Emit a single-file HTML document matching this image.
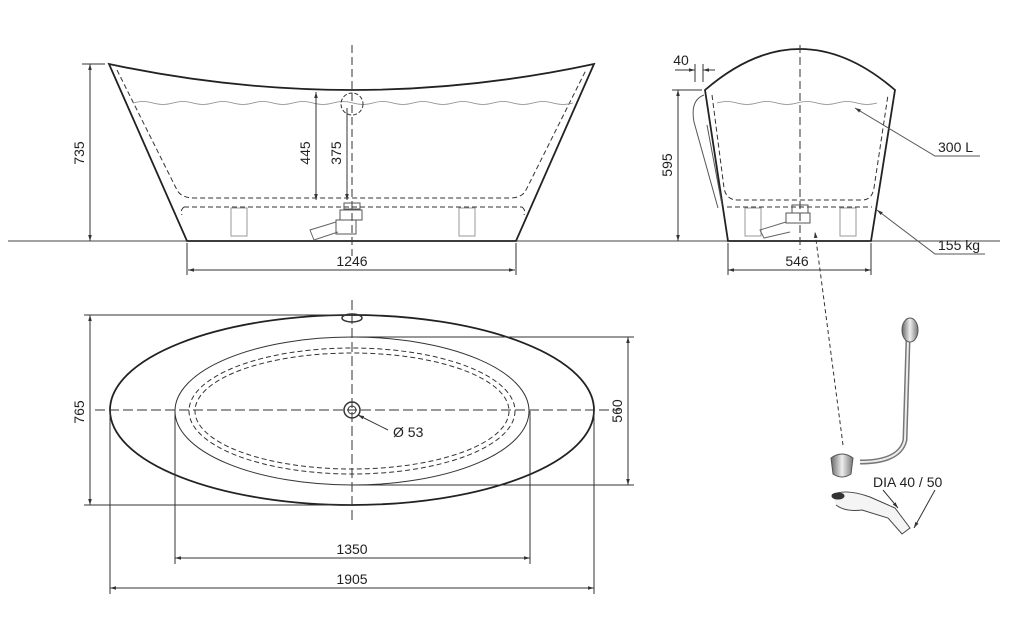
<!DOCTYPE html>
<html><head><meta charset="utf-8"><style>
html,body{margin:0;padding:0;background:#fff}
svg{display:block}
text{font-family:"Liberation Sans",sans-serif;font-size:14px;fill:#222}
</style></head><body>
<svg width="1030" height="639" viewBox="0 0 1030 639" xmlns="http://www.w3.org/2000/svg">
<defs>
<marker id="a" viewBox="0 0 10 10" refX="10" refY="5" markerWidth="6" markerHeight="6" orient="auto-start-reverse"><path d="M0,2 L10,5 L0,8z" fill="#333"/></marker>
<linearGradient id="chr" x1="0" x2="1"><stop offset="0" stop-color="#666"/><stop offset=".5" stop-color="#eee"/><stop offset="1" stop-color="#777"/></linearGradient>
</defs>
<g fill="none" stroke="#333" stroke-width="1">
<line x1="8" y1="241" x2="1000" y2="241" stroke="#444"/>
<path d="M109,64 Q352,116 594,64 L516,241 L187,241 Z" stroke="#222" stroke-width="1.8"/>
<path d="M117,70 L177,190 Q181,198 195,198 L510,198 Q522,198 526,190 L586,70" stroke-dasharray="5,3"/>
<path d="M184,207 L522,207 M184,207 Q180,210 182,215 M522,207 Q526,210 524,215" stroke-dasharray="5,3"/>
<path d="M133,103 q10,-3 20,0 t20,0 t20,0 t20,0 t20,0 t20,0 t20,0 t20,0 t20,0 t20,0 t20,0 t20,0 t20,0 t20,0 t20,0 t20,0 t20,0 t20,0 t20,0 t20,0 t20,0 t20,0" stroke="#888" stroke-width=".8"/>
<line x1="352" y1="45" x2="352" y2="256" stroke-dasharray="8,4"/>
<circle cx="352" cy="104" r="11" stroke-dasharray="4,2"/>
<rect x="231" y="208" width="16" height="28" stroke="#999"/><rect x="459" y="208" width="16" height="28" stroke="#999"/>
<rect x="344" y="203" width="16" height="6" stroke="#555"/><rect x="340" y="210" width="22" height="10" stroke="#555"/>
<rect x="336" y="220" width="20" height="14" stroke="#555"/><path d="M336,222 L310,230 L314,240 L338,232" stroke="#666"/>
<line x1="90" y1="64" x2="90" y2="241" marker-start="url(#a)" marker-end="url(#a)"/><line x1="82" y1="64" x2="105" y2="64"/>
<line x1="316" y1="92" x2="316" y2="200" marker-start="url(#a)" marker-end="url(#a)"/>
<line x1="347" y1="108" x2="347" y2="200" marker-end="url(#a)"/>
<line x1="188" y1="270" x2="515" y2="270" marker-start="url(#a)" marker-end="url(#a)"/>
<line x1="187" y1="243" x2="187" y2="275"/><line x1="516" y1="243" x2="516" y2="275"/>
<path d="M705,90 Q800,8 895,90 L871,241 L728,241 Z" stroke="#222" stroke-width="1.8"/>
<path d="M712,95 L724,188 Q726,200 738,200 L862,200 Q872,200 874,188 L888,95" stroke-dasharray="5,3"/>
<path d="M727,207 L872,207" stroke-dasharray="5,3"/>
<path d="M717,103 q10,-3 20,0 t20,0 t20,0 t20,0 t20,0 t20,0 t20,0 t20,0" stroke="#888" stroke-width=".8"/>
<path d="M704,95 Q690,100 694,122 L718,208 M707,125 L722,205" stroke="#555"/>
<line x1="800" y1="45" x2="800" y2="250" stroke-dasharray="8,4"/>
<rect x="745" y="208" width="16" height="28" stroke="#999"/><rect x="840" y="208" width="16" height="28" stroke="#999"/>
<rect x="792" y="205" width="16" height="8" stroke="#555"/><rect x="786" y="213" width="24" height="10" stroke="#555"/><path d="M786,222 L760,230 L764,238 L790,232" stroke="#666"/>
<line x1="678" y1="90" x2="678" y2="241" marker-start="url(#a)" marker-end="url(#a)"/><line x1="672" y1="90" x2="702" y2="90"/>
<line x1="695" y1="64" x2="695" y2="82"/><line x1="703" y1="64" x2="703" y2="82"/>
<line x1="675" y1="70" x2="695" y2="70" marker-end="url(#a)"/><line x1="715" y1="70" x2="703" y2="70" marker-end="url(#a)"/>
<line x1="728" y1="270" x2="871" y2="270" marker-start="url(#a)" marker-end="url(#a)"/>
<line x1="728" y1="243" x2="728" y2="275"/><line x1="871" y1="243" x2="871" y2="275"/>
<path d="M980,156 L935,156 L855,108" marker-end="url(#a)" stroke="#555"/>
<path d="M985,254 L935,254 L877,210" marker-end="url(#a)" stroke="#555"/>
<line x1="843" y1="445" x2="815" y2="232" stroke-dasharray="4,3" marker-end="url(#a)"/>
<ellipse cx="352" cy="410" rx="242" ry="95" stroke="#222" stroke-width="1.8"/>
<ellipse cx="352" cy="411" rx="177" ry="74" stroke="#333"/>
<ellipse cx="352" cy="411" rx="163" ry="63" stroke-dasharray="5,3"/>
<ellipse cx="352" cy="411" rx="157" ry="58" stroke-dasharray="5,3"/>
<circle cx="352" cy="410" r="8" stroke-width="1.5"/><circle cx="352" cy="410" r="4"/>
<ellipse cx="352" cy="318" rx="10" ry="4" stroke-width="1.5"/>
<line x1="95" y1="410" x2="620" y2="410" stroke-dasharray="10,4"/>
<line x1="352" y1="300" x2="352" y2="520" stroke-dasharray="10,4"/>
<line x1="90" y1="315" x2="90" y2="505" marker-start="url(#a)" marker-end="url(#a)"/>
<line x1="84" y1="315" x2="352" y2="315"/><line x1="84" y1="505" x2="352" y2="505"/>
<line x1="628" y1="337" x2="628" y2="485" marker-start="url(#a)" marker-end="url(#a)"/>
<line x1="352" y1="337" x2="634" y2="337"/><line x1="352" y1="485" x2="634" y2="485"/>
<line x1="175" y1="558" x2="530" y2="558" marker-start="url(#a)" marker-end="url(#a)"/>
<line x1="175" y1="411" x2="175" y2="564"/><line x1="530" y1="411" x2="530" y2="564"/>
<line x1="110" y1="588" x2="594" y2="588" marker-start="url(#a)" marker-end="url(#a)"/>
<line x1="110" y1="410" x2="110" y2="594"/><line x1="594" y1="410" x2="594" y2="594"/>
<line x1="388" y1="430" x2="358" y2="415" marker-end="url(#a)"/>
<path d="M908,340 L905,440 Q900,462 860,462" stroke="#777" stroke-width="5"/>
<path d="M908,340 L905,440 Q900,462 860,462" stroke="#eee" stroke-width="2"/>
<ellipse cx="910" cy="330" rx="8" ry="12" fill="url(#chr)" stroke="#555"/>
<path d="M831,458 Q842,450 853,458 L851,474 Q842,480 833,474 Z" fill="url(#chr)" stroke="#555"/>
<path d="M832,495 Q845,488 870,497 L895,508 L910,528 L902,534 L888,518 L862,510 Q845,512 836,505" fill="#f4f4f4" stroke="#444"/>
<ellipse cx="838" cy="496" rx="6" ry="3" fill="#333"/>
<line x1="883" y1="490" x2="898" y2="508" marker-end="url(#a)"/>
<line x1="935" y1="490" x2="914" y2="528" marker-end="url(#a)"/>
</g>
<text x="90" y="153" text-anchor="middle" transform="rotate(-90 90 153)" dy="-6">735</text>
<text x="316" y="153" text-anchor="middle" transform="rotate(-90 316 153)" dy="-6">445</text>
<text x="347" y="153" text-anchor="middle" transform="rotate(-90 347 153)" dy="-6">375</text>
<text x="352" y="266" text-anchor="middle">1246</text>
<text x="678" y="165" text-anchor="middle" transform="rotate(-90 678 165)" dy="-6">595</text>
<text x="681" y="65" text-anchor="middle">40</text>
<text x="797" y="266" text-anchor="middle">546</text>
<text x="938" y="152">300 L</text>
<text x="938" y="250">155 kg</text>
<text x="90" y="412" text-anchor="middle" transform="rotate(-90 90 412)" dy="-6">765</text>
<text x="628" y="411" text-anchor="middle" transform="rotate(-90 628 411)" dy="-6">560</text>
<text x="352" y="554" text-anchor="middle">1350</text>
<text x="352" y="584" text-anchor="middle">1905</text>
<text x="393" y="437">Ø 53</text>
<text x="873" y="487">DIA 40 / 50</text>
</svg>
</body></html>
